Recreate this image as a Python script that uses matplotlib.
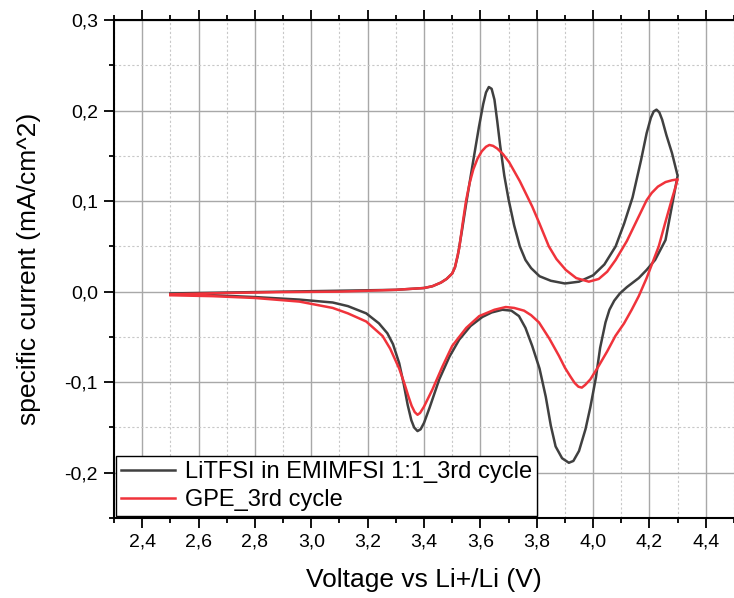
import numpy as np
import matplotlib
matplotlib.use('Agg')
import matplotlib.pyplot as plt
from matplotlib.ticker import MultipleLocator, FuncFormatter

plt.rcParams['font.family'] = ['Liberation Sans', 'DejaVu Sans']

# LiTFSI in EMIMFSI 1:1, anodic sweep (2.5 -> 4.3 V)
v_litfsi_up = [2.50, 2.70, 2.90, 3.10, 3.30, 3.40, 3.43, 3.46, 3.48, 3.50, 3.51, 3.52, 3.535, 3.55, 3.575,
               3.595, 3.61, 3.62, 3.63, 3.64, 3.65, 3.66, 3.67, 3.685, 3.70, 3.72, 3.74, 3.76, 3.78,
               3.81, 3.85, 3.90, 3.95, 4.00, 4.04, 4.08, 4.11, 4.14, 4.17, 4.19, 4.205, 4.215,
               4.225, 4.235, 4.245, 4.26, 4.28, 4.30]
i_litfsi_up = [-0.002, -0.001, 0.000, 0.001, 0.002, 0.004, 0.006, 0.010, 0.014, 0.020, 0.027, 0.040, 0.068, 0.098, 0.145,
               0.182, 0.207, 0.220, 0.226, 0.224, 0.212, 0.188, 0.162, 0.128, 0.102, 0.073, 0.050, 0.035, 0.026,
               0.017, 0.012, 0.009, 0.011, 0.018, 0.030, 0.050, 0.075, 0.104, 0.145, 0.175, 0.192, 0.199,
               0.201, 0.198, 0.190, 0.173, 0.153, 0.128]
# cathodic sweep (4.3 -> 2.5 V)
v_litfsi_down = [4.30, 4.28, 4.257, 4.22, 4.19, 4.162, 4.12, 4.095, 4.075, 4.058, 4.044, 4.025, 4.01,
                 3.99, 3.973, 3.95, 3.93, 3.914, 3.89, 3.867, 3.85, 3.832, 3.81, 3.784, 3.76,
                 3.737, 3.71, 3.678, 3.64, 3.607, 3.565, 3.525, 3.49, 3.454, 3.42, 3.40, 3.388, 3.377,
                 3.365, 3.355, 3.342, 3.328, 3.312, 3.29, 3.27, 3.24, 3.195, 3.13, 3.076, 2.958, 2.80, 2.65, 2.50]
i_litfsi_down = [0.128, 0.095, 0.057, 0.035, 0.024, 0.015, 0.005, -0.002, -0.010, -0.020, -0.034, -0.062, -0.095,
                 -0.128, -0.152, -0.176, -0.187, -0.189, -0.184, -0.171, -0.148, -0.116, -0.085, -0.060, -0.040,
                 -0.027, -0.021, -0.020, -0.023, -0.028, -0.038, -0.053, -0.072, -0.097, -0.128, -0.145, -0.152, -0.154,
                 -0.150, -0.142, -0.125, -0.102, -0.079, -0.058, -0.046, -0.035, -0.024, -0.016, -0.012, -0.0088, -0.006, -0.004, -0.003]

# GPE
v_gpe_up = [2.50, 2.70, 2.90, 3.10, 3.30, 3.40, 3.43, 3.46, 3.48, 3.50, 3.51, 3.525, 3.537, 3.549, 3.562, 3.575,
            3.59, 3.605, 3.62, 3.632, 3.645, 3.66, 3.68, 3.702, 3.74, 3.784, 3.81, 3.843, 3.87, 3.903,
            3.94, 3.985, 4.02, 4.05, 4.08, 4.12, 4.162, 4.19, 4.208, 4.23, 4.257, 4.28, 4.30]
i_gpe_up = [-0.003, -0.0015, -0.0005, 0.000, 0.002, 0.004, 0.006, 0.010, 0.014, 0.020, 0.027, 0.048, 0.075, 0.100, 0.120, 0.135,
            0.147, 0.155, 0.160, 0.162, 0.161, 0.158, 0.152, 0.143, 0.122, 0.094, 0.075, 0.050, 0.036, 0.024,
            0.015, 0.011, 0.014, 0.022, 0.035, 0.056, 0.083, 0.101, 0.109, 0.116, 0.121, 0.123, 0.124]
v_gpe_down = [4.30, 4.29, 4.279, 4.255, 4.233, 4.19, 4.162, 4.137, 4.11, 4.079, 4.05, 4.02,
              3.99, 3.972, 3.96, 3.948, 3.935, 3.92, 3.90, 3.879, 3.845, 3.808, 3.78, 3.755, 3.72, 3.69,
              3.65, 3.596, 3.55, 3.50, 3.465, 3.43, 3.40, 3.386, 3.377, 3.367, 3.356, 3.345, 3.33, 3.312,
              3.28, 3.253, 3.195, 3.13, 3.076, 2.958, 2.80, 2.65, 2.50]
i_gpe_down = [0.124, 0.113, 0.1015, 0.075, 0.050, 0.015, -0.005, -0.020, -0.035, -0.049, -0.066, -0.082,
              -0.097, -0.103, -0.106, -0.105, -0.101, -0.094, -0.084, -0.071, -0.052, -0.034, -0.026, -0.021, -0.018, -0.017,
              -0.020, -0.027, -0.040, -0.060, -0.083, -0.108, -0.127, -0.134, -0.136, -0.133, -0.126, -0.116, -0.101, -0.085,
              -0.063, -0.049, -0.033, -0.024, -0.018, -0.011, -0.007, -0.005, -0.004]

labels = ['LiTFSI in EMIMFSI 1:1_3rd cycle', 'GPE_3rd cycle']
colors = ['#404040', '#f0333b']

fig = plt.figure(figsize=(7.34, 5.98), dpi=100)
ax = fig.add_axes([114 / 734, 80 / 598, 620 / 734, 498 / 598])

ax.plot(v_litfsi_up + v_litfsi_down, i_litfsi_up + i_litfsi_down,
        color=colors[0], lw=1.8, label=labels[0], zorder=3, solid_joinstyle='round')
ax.plot(v_gpe_up + v_gpe_down, i_gpe_up + i_gpe_down,
        color=colors[1], lw=1.8, label=labels[1], zorder=4, solid_joinstyle='round')

ax.set_xlim(2.3, 4.5)
ax.set_ylim(-0.25, 0.3)

comma = FuncFormatter(lambda v, p: f'{v:.1f}'.replace('.', ','))
ax.xaxis.set_major_locator(MultipleLocator(0.2))
ax.xaxis.set_minor_locator(MultipleLocator(0.1))
ax.yaxis.set_major_locator(MultipleLocator(0.1))
ax.yaxis.set_minor_locator(MultipleLocator(0.05))
ax.xaxis.set_major_formatter(comma)
ax.yaxis.set_major_formatter(comma)

ax.grid(which='major', color='#a8a8a8', lw=1.0, ls='-')
ax.grid(which='minor', color='#c8c8c8', lw=0.8, ls=(0, (2, 2)))
ax.set_axisbelow(True)

ax.spines['right'].set_visible(False)
for s in ['left', 'bottom', 'top']:
    ax.spines[s].set_linewidth(1.5)
ax.tick_params(which='both', direction='out', top=True, right=False, width=1.3, labelsize=14)
ax.tick_params(which='major', length=7.5, pad=4)
ax.tick_params(which='minor', length=3.5)

ax.set_xlabel('Voltage vs Li+/Li (V)', fontsize=19, labelpad=12)
ax.set_ylabel('specific current (mA/cm^2)', fontsize=19, labelpad=17)

leg = ax.legend(loc='lower left', bbox_to_anchor=(0, 0), borderaxespad=0.1, fontsize=17,
                fancybox=False, framealpha=1, edgecolor='black', handlelength=2.3,
                handletextpad=0.4, labelspacing=0.25, borderpad=0.2)
leg.get_frame().set_linewidth(1.0)

fig.savefig('out.png', dpi=100)
